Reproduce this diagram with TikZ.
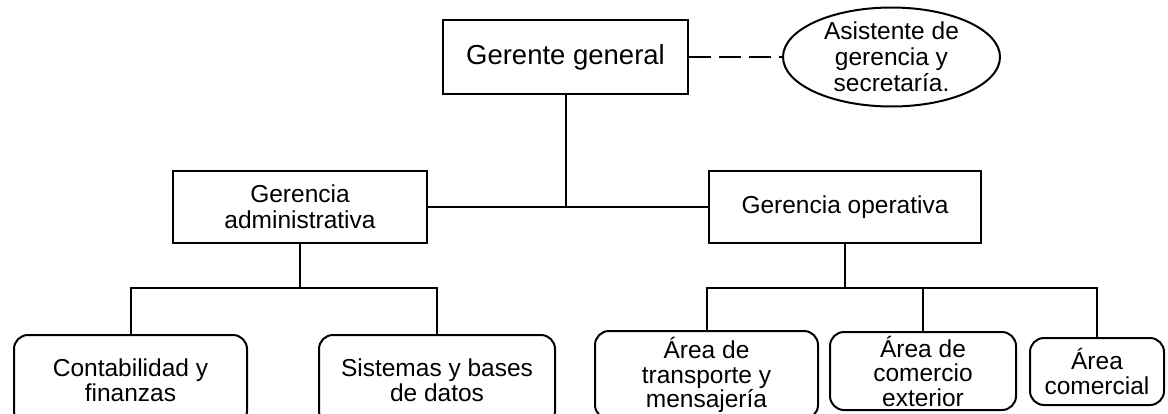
\documentclass[tikz,border=0pt]{standalone}
\usepackage{fontspec}
\setmainfont{Liberation Sans}
\usetikzlibrary{shapes.geometric}

\begin{document}
\begin{tikzpicture}[x=1pt, y=-1pt, line width=2pt,
  every node/.style={draw, align=center, inner sep=0pt, font=\fontsize{24.5}{26}\selectfont},
  headbox/.style={rectangle, minimum width=245pt, minimum height=74pt, font=\fontsize{27.5}{30}\selectfont},
  midbox/.style={rectangle, minimum height=72pt},
  unitbox/.style={rectangle, rounded corners=14pt, font=\fontsize{24.5}{24.5}\selectfont}]
\useasboundingbox (0,0) rectangle (1168,413);

\node[headbox] (gerente) at (565.5,57) {Gerente general};
\node[ellipse, minimum width=217pt, minimum height=98pt] (asistente) at (891.5,57) {Asistente de\\gerencia y\\secretaría.};
\node[midbox, minimum width=254pt] (admin) at (300,207) {Gerencia\\administrativa};
\node[midbox, minimum width=272pt] (operativa) at (845,207) {Gerencia operativa};

\node[unitbox, minimum width=233pt, minimum height=90pt] (conta) at (130.5,380) {Contabilidad y\\finanzas};
\node[unitbox, minimum width=236pt, minimum height=90pt] (sistemas) at (437,380) {Sistemas y bases\\de datos};
\node[unitbox, minimum width=223pt, minimum height=88pt] (transporte) at (706.5,375) {Área de\\transporte y\\mensajería};
\node[unitbox, minimum width=186pt, minimum height=78pt] (comercio) at (923,371) {Área de\\comercio\\exterior};
\node[unitbox, minimum width=134pt, minimum height=67pt] (comercial) at (1097,371.5) {Área\\comercial};

\coordinate (abranch) at (300,288);
\coordinate (obranch) at (845,288);

\draw[dash pattern=on 22pt off 8pt] (gerente.east) -- (asistente.west);
\draw (gerente.south) -- (gerente.south |- admin.east);
\draw (admin.east) -- (operativa.west);
\draw (admin.south) -- (abranch);
\draw (conta.north) |- (abranch) -| (sistemas.north);
\draw (operativa.south) -- (obranch);
\draw (transporte.north) |- (obranch) -| (comercial.north);
\draw (comercio.north) -- (comercio.north |- obranch);
\end{tikzpicture}
\end{document}
